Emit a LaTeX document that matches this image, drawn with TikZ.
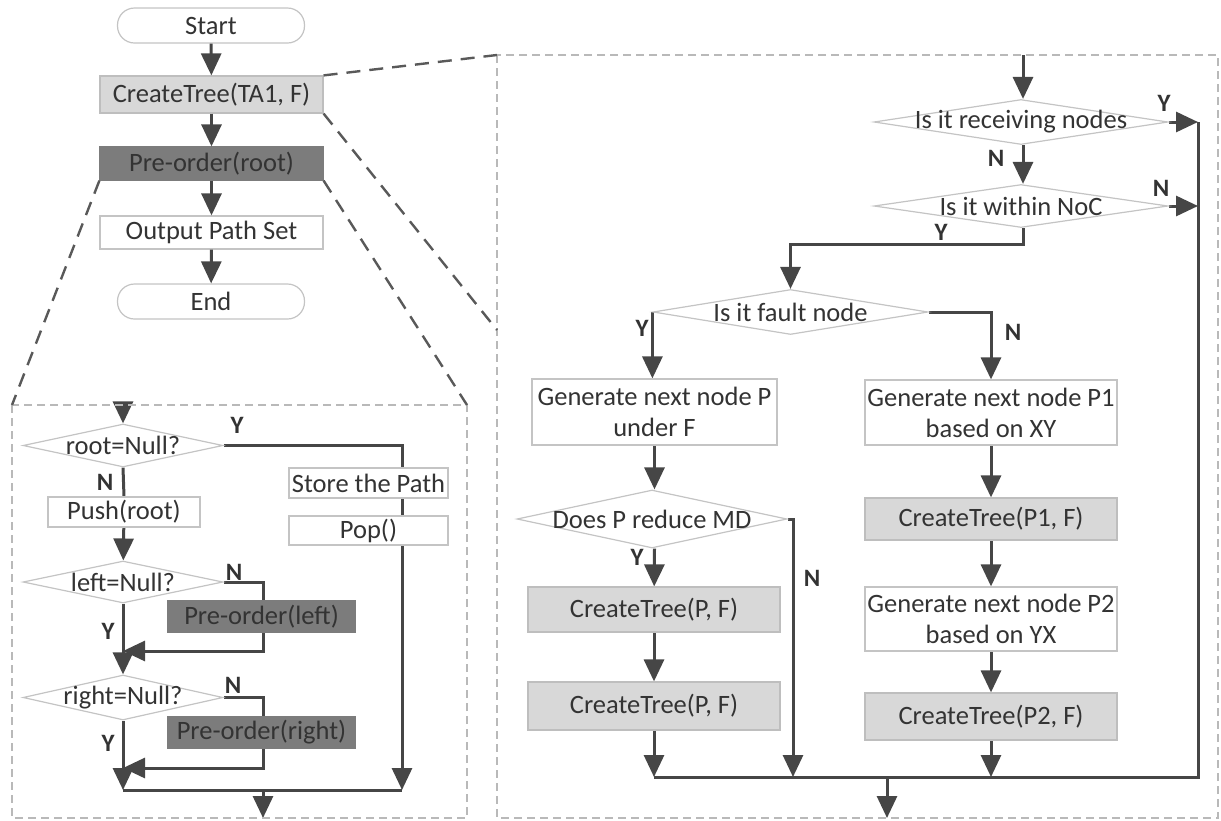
\documentclass[tikz,border=0pt]{standalone}
\usepackage{fontspec}
\setmainfont{Carlito}
\usetikzlibrary{shapes.geometric,arrows.meta,backgrounds}
\definecolor{txt}{HTML}{333333}
\definecolor{linecol}{HTML}{464646}
\definecolor{boxline}{HTML}{C4C4C4}
\definecolor{lightfill}{HTML}{D8D8D8}
\definecolor{darkfill}{HTML}{7C7C7C}
\begin{document}
\begin{tikzpicture}[x=1pt, y=-1pt,
    every node/.style={font=\fontsize{26.5}{31}\selectfont, text=txt, inner sep=0pt, align=center},
    sz/.style 2 args={minimum width=#1pt, minimum height=#2pt},
    box/.style={rectangle, draw=boxline, line width=1.2pt, fill=white},
    light/.style={box, fill=lightfill, draw=lightfill!88!black},
    dark/.style={box, fill=darkfill, draw=darkfill},
    term/.style={box, rounded corners=17pt},
    dec/.style={diamond, draw=boxline, line width=1.2pt, fill=white},
    yn/.style={font=\fontsize{25}{25}\selectfont\bfseries, text=txt},
    conn/.style={draw=linecol, line width=3pt},
    flow/.style={conn, -{Triangle[length=22pt, width=20pt]}},
    panel/.style={draw=gray!55, line width=1.4pt, dash pattern=on 8pt off 5pt},
    zoomline/.style={draw=linecol!90, line width=2.4pt, dash pattern=on 14pt off 9pt}]
  \useasboundingbox (0,0) rectangle (1221,820);

  % 1. Main flow (top left)
  \node[term, sz={187}{35}] (start) at (211,25.5) {Start};
  \node[light, sz={223}{37}] (ct0) at (211.5,94.5) {CreateTree(TA1, F)};
  \node[dark, sz={223}{33}] (pre0) at (211.5,163.5) {Pre-order(root)};
  \node[box, sz={223}{33}] (out) at (211.5,232.5) {Output Path Set};
  \node[term, sz={187}{35}] (end) at (211,301.5) {End};
  \foreach \a/\b in {start/ct0, ct0/pre0, pre0/out, out/end}
    \draw[flow] (\a) -- (\b);

  % 2. Panels and zoom lines
  \coordinate (lp1) at (12,405);   \coordinate (lp2) at (467,818);
  \coordinate (rp1) at (497,55);   \coordinate (rp2) at (1218,818);
  \coordinate (rpw) at (497,330);
  \draw[panel] (lp1) rectangle (lp2);
  \draw[panel] (rp1) rectangle (rp2);
  \draw[zoomline] (pre0.south west) -- (lp1);
  \draw[zoomline] (pre0.south east) -- (lp1 -| lp2);
  \draw[zoomline] (ct0.north east) -- (rp1);
  \draw[zoomline] (ct0.south east) -- (rpw);

  % 3. Pre-order (left panel)
  \node[dec, sz={200}{43}, label=center:{root=Null?}] (d1) at (123,445.5) {};
  \node[box, sz={152}{30}] (push) at (124,512) {Push(root)};
  \node[dec, sz={200}{42}, label=center:{left=Null?}] (d2) at (123,582) {};
  \node[dark, sz={187}{31}] (prel) at (261.5,616.5) {Pre-order(left)};
  \node[dec, sz={200}{45}, label=center:{right=Null?}] (d3) at (123,697.5) {};
  \node[dark, sz={187}{31}] (prer) at (261.5,732.5) {Pre-order(right)};
  \node[box, sz={159}{30}] (store) at (368.5,483) {Store the Path};
  \node[box, sz={159}{29}] (pop) at (368.5,530.5) {Pop()};

  \coordinate (lin) at (123,405);
  \coordinate (lr) at (402,790);
  \coordinate (lj) at (123,790);
  \coordinate (lk1) at (263,651);
  \coordinate (lk2) at (263,768);
  \coordinate (lout) at (263,818);
  \begin{pgfonlayer}{background}
    \draw[flow] (lin) -- (d1);
    \draw[flow] (d1.east) -| (lr);
    \draw[conn] (d1.south) -- (push.north);
    \draw[flow] (push) -- (d2);
    \draw[flow] (d2.east) -| (lk1) -- (d2 |- lk1);
    \draw[flow] (d2.south) -- (d3.north);
    \draw[flow] (d3.east) -| (lk2) -- (d3 |- lk2);
    \draw[flow] (d3.south) -- (lj);
    \draw[conn] (lj) -- (lr);
    \draw[flow] (lout |- lj) -- (lout);
  \end{pgfonlayer}

  % 4. CreateTree (right panel)
  \node[dec, sz={294}{45}, label=center:{Is it receiving nodes}] (q1) at (1021,122) {};
  \node[dec, sz={294}{43}, label=center:{Is it within NoC}] (q2) at (1021,206) {};
  \node[dec, sz={275}{45}, label=center:{Is it fault node}] (q3) at (790.5,312) {};
  \node[box, sz={245}{66}] (gp) at (654.5,412) {Generate next node P\\under F};
  \node[dec, sz={270}{58}, label=center:{Does P reduce MD}] (q4) at (652,519) {};
  \node[light, sz={252}{45}] (ctp1) at (654,609.5) {CreateTree(P, F)};
  \node[light, sz={252}{48}] (ctp2) at (654,706) {CreateTree(P, F)};
  \node[box, sz={252}{65}] (gp1) at (991,412.5) {Generate next node P1\\based on XY};
  \node[light, sz={252}{42}] (ctq1) at (991,519) {CreateTree(P1, F)};
  \node[box, sz={252}{64}] (gp2) at (991,619) {Generate next node P2\\based on YX};
  \node[light, sz={252}{47}] (ctq2) at (991,716.5) {CreateTree(P2, F)};

  \coordinate (rin) at (1023,55);
  \coordinate (rbus) at (1198,777);
  \coordinate (rbn) at (793,777);
  \coordinate (rout) at (887,818);
  \begin{pgfonlayer}{background}
    \draw[flow] (rin) -- (rin |- q1.north);
    \draw[flow] (q1.east) -- (q1.east -| rbus);
    \draw[flow] (rin |- q1.south) -- (rin |- q2.north);
    \draw[flow] (q2.east) -- (q2.east -| rbus);
    \draw[flow] (rin |- q2.south) -- ++(0,16) -| (q3.north);
    \draw[flow] (q3.west) -- (q3.west |- gp.north);
    \draw[flow] (q3.east) -| (gp1.north);
    \draw[flow] (gp) -- (gp |- q4.north);
    \draw[flow] (gp |- q4.south) -- (ctp1);
    \draw[flow] (ctp1) -- (ctp2);
    \draw[flow] (ctp2) -- (ctp2 |- rbus);
    \draw[flow] (q4.east) -| (rbn);
    \draw[flow] (gp1) -- (ctq1);
    \draw[flow] (ctq1) -- (gp2);
    \draw[flow] (gp2) -- (ctq2);
    \draw[flow] (ctq2) -- (ctq2 |- rbus);
    \draw[conn] (ctp2 |- rbus) -- (rbus) -- (rbus |- q1.east);
    \draw[flow] (rout |- rbus) -- (rout);
  \end{pgfonlayer}

  % 5. Branch labels
  \foreach \p/\t [count=\k] in {{237,425}/Y, {105,482}/N, {234,572}/N, {108,631}/Y,
      {233,685}/N, {108,743}/Y, {1164,103}/Y, {996,158}/N, {1161,188}/N, {941,232}/Y,
      {642,328}/Y, {1013,332}/N, {637,557}/Y, {812,578}/N}
    \node[yn] (lab\k) at (\p) {\t};
\end{tikzpicture}
\end{document}
